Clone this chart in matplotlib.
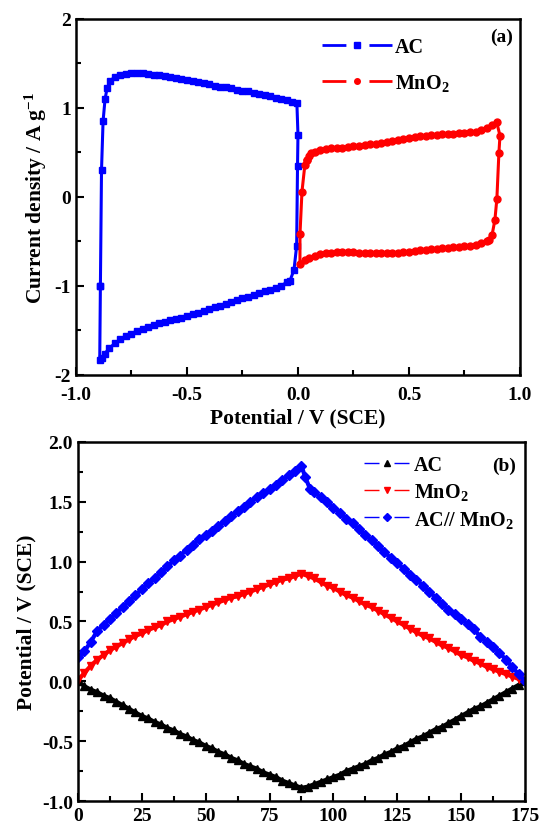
import matplotlib
matplotlib.use("Agg")
import matplotlib.pyplot as plt
from matplotlib.lines import Line2D
from matplotlib.ticker import MultipleLocator

plt.rcParams["font.family"] = ["Liberation Serif", "DejaVu Serif"]
plt.rcParams["font.weight"] = "bold"
plt.rcParams["axes.unicode_minus"] = False
plt.rcParams["mathtext.fontset"] = "custom"
plt.rcParams["mathtext.rm"] = "Liberation Serif:bold"
plt.rcParams["mathtext.it"] = "Liberation Serif:bold"
plt.rcParams["mathtext.bf"] = "Liberation Serif:bold"

# (a) cyclic voltammetry, AC electrode: potential (V) and current density (A/g)
ac_cv_v = [-0.89, -0.885, -0.878, -0.869, -0.86, -0.847, -0.825, -0.80, -0.775, -0.75,
           -0.725, -0.70, -0.675, -0.65, -0.625, -0.60, -0.575, -0.55, -0.525, -0.50,
           -0.475, -0.45, -0.425, -0.40, -0.375, -0.35, -0.325, -0.30, -0.275, -0.25,
           -0.225, -0.20, -0.175, -0.15, -0.125, -0.10, -0.075, -0.05, -0.025, -0.005,
           0.0, -0.002, -0.006, -0.018, -0.036,
           -0.05, -0.075, -0.10, -0.125, -0.15, -0.175, -0.20, -0.225, -0.25, -0.275,
           -0.30, -0.325, -0.35, -0.375, -0.40, -0.425, -0.45, -0.475, -0.50, -0.525,
           -0.55, -0.575, -0.60, -0.625, -0.65, -0.675, -0.70, -0.725, -0.75, -0.775,
           -0.80, -0.825, -0.85, -0.87, -0.885, -0.893, -0.89]
ac_cv_i = [-1.0, 0.30, 0.85, 1.10, 1.22, 1.30, 1.35, 1.37, 1.385, 1.39,
           1.39, 1.39, 1.385, 1.375, 1.365, 1.355, 1.345, 1.335, 1.32, 1.31,
           1.30, 1.29, 1.275, 1.265, 1.25, 1.24, 1.23, 1.22, 1.205, 1.195,
           1.185, 1.17, 1.16, 1.145, 1.13, 1.115, 1.10, 1.085, 1.07, 1.06,
           0.70, 0.35, -0.55, -0.82, -0.94,
           -0.96, -0.995, -1.02, -1.04, -1.06, -1.08, -1.10, -1.12, -1.14, -1.16,
           -1.18, -1.20, -1.22, -1.24, -1.26, -1.28, -1.30, -1.32, -1.335, -1.355,
           -1.37, -1.385, -1.40, -1.42, -1.44, -1.46, -1.48, -1.505, -1.535, -1.565,
           -1.60, -1.645, -1.70, -1.76, -1.81, -1.83, -1.0]

# (a) cyclic voltammetry, MnO2 electrode
mno2_cv_v = [0.04, 0.05, 0.06, 0.075, 0.10, 0.125, 0.15, 0.175, 0.20, 0.225,
             0.25, 0.275, 0.30, 0.325, 0.35, 0.375, 0.40, 0.425, 0.45, 0.475,
             0.50, 0.525, 0.55, 0.575, 0.60, 0.625, 0.65, 0.675, 0.70, 0.725,
             0.75, 0.775, 0.80, 0.825, 0.85, 0.875, 0.895,
             0.91, 0.905, 0.896, 0.887, 0.874, 0.86,
             0.85, 0.825, 0.80, 0.775, 0.75, 0.725, 0.70, 0.675, 0.65, 0.625,
             0.60, 0.575, 0.55, 0.525, 0.50, 0.475, 0.45, 0.425, 0.40, 0.375,
             0.35, 0.325, 0.30, 0.275, 0.25, 0.225, 0.20, 0.175, 0.15, 0.125,
             0.10, 0.075, 0.05, 0.03, 0.009,
             0.009, 0.018, 0.031, 0.04]
mno2_cv_i = [0.42, 0.46, 0.49, 0.51, 0.525, 0.535, 0.545, 0.55, 0.555, 0.56,
             0.57, 0.575, 0.585, 0.59, 0.60, 0.605, 0.615, 0.625, 0.64, 0.65,
             0.665, 0.675, 0.685, 0.69, 0.695, 0.70, 0.705, 0.71, 0.71, 0.715,
             0.72, 0.725, 0.735, 0.75, 0.775, 0.805, 0.84,
             0.69, 0.49, -0.02, -0.26, -0.43, -0.48,
             -0.50, -0.52, -0.535, -0.55, -0.555, -0.56, -0.565, -0.57, -0.575, -0.58,
             -0.585, -0.595, -0.60, -0.61, -0.615, -0.62, -0.625, -0.63, -0.635, -0.635,
             -0.635, -0.635, -0.63, -0.625, -0.62, -0.615, -0.615, -0.62, -0.625, -0.635,
             -0.645, -0.66, -0.68, -0.71, -0.75,
             -0.42, 0.06, 0.36, 0.42]

# (b) charge/discharge curves: time (s) and potential (V)
t_charge = [0, 2.5, 5, 7.5, 10, 12.5, 15, 17.5, 20, 22.5, 25, 27.5, 30, 32.5, 35, 37.5,
            40, 42.5, 45, 47.5, 50, 52.5, 55, 57.5, 60, 62.5, 65, 67.5, 70, 72.5, 75,
            77.5, 80, 82.5, 85, 87.5]
t_discharge = [90, 92.5, 95, 97.5, 100, 102.5, 105, 107.5, 110, 112.5, 115, 117.5, 120,
               122.5, 125, 127.5, 130, 132.5, 135, 137.5, 140, 142.5, 145, 147.5, 150,
               152.5, 155, 157.5, 160, 162.5, 165, 167.5, 170, 172.5, 175]
t_cell_discharge = [88.9, 90.8, 92.5, 95, 97.5, 100, 102.5, 105, 107.5, 110, 112.5, 115,
                    117.5, 120, 122.5, 125, 127.5, 130, 132.5, 135, 137.5, 140, 142.5,
                    145, 147.5, 150, 152.5, 155, 157.5, 160, 162.5, 165, 167.5, 170,
                    172.5, 175]

ac_charge = [0.0, -0.04, -0.07, -0.09, -0.12, -0.14, -0.17, -0.20, -0.23, -0.26, -0.29,
             -0.31, -0.34, -0.36, -0.39, -0.41, -0.44, -0.46, -0.49, -0.51, -0.54, -0.56,
             -0.59, -0.61, -0.64, -0.66, -0.69, -0.71, -0.73, -0.76, -0.78, -0.80, -0.83,
             -0.85, -0.87, -0.89]
ac_discharge = [-0.88, -0.86, -0.84, -0.82, -0.80, -0.78, -0.75, -0.73, -0.71, -0.69,
                -0.66, -0.64, -0.61, -0.59, -0.56, -0.54, -0.51, -0.48, -0.46, -0.43,
                -0.40, -0.38, -0.35, -0.32, -0.29, -0.26, -0.23, -0.21, -0.18, -0.15,
                -0.12, -0.09, -0.06, -0.03, 0.0]

mno2_charge = [0.01, 0.07, 0.13, 0.18, 0.22, 0.26, 0.29, 0.32, 0.35, 0.38, 0.40, 0.43,
               0.45, 0.47, 0.50, 0.52, 0.54, 0.56, 0.58, 0.60, 0.62, 0.64, 0.66, 0.68,
               0.70, 0.71, 0.73, 0.75, 0.77, 0.79, 0.81, 0.83, 0.85, 0.86, 0.88, 0.90]
mno2_discharge = [0.88, 0.86, 0.83, 0.80, 0.78, 0.75, 0.72, 0.70, 0.67, 0.64, 0.62, 0.59,
                  0.56, 0.53, 0.50, 0.47, 0.44, 0.41, 0.38, 0.36, 0.33, 0.30, 0.28, 0.25,
                  0.22, 0.20, 0.17, 0.15, 0.12, 0.10, 0.08, 0.06, 0.04, 0.02, 0.0]

cell_charge = [0.20, 0.25, 0.33, 0.42, 0.47, 0.52, 0.57, 0.62, 0.67, 0.72, 0.77, 0.82,
               0.86, 0.91, 0.96, 1.01, 1.05, 1.10, 1.14, 1.19, 1.22, 1.26, 1.30, 1.34,
               1.38, 1.42, 1.46, 1.50, 1.54, 1.57, 1.61, 1.64, 1.68, 1.72, 1.76, 1.80]
cell_discharge = [1.71, 1.61, 1.58, 1.54, 1.50, 1.45, 1.41, 1.36, 1.32, 1.27, 1.22, 1.18,
                  1.13, 1.08, 1.03, 0.99, 0.94, 0.89, 0.85, 0.80, 0.75, 0.70, 0.65, 0.60,
                  0.56, 0.52, 0.48, 0.44, 0.37, 0.33, 0.29, 0.24, 0.18, 0.12, 0.06, 0.0]

BLUE = "#0000ff"
RED = "#ff0000"

fig = plt.figure(figsize=(5.4, 8.28), dpi=100)
ax1 = fig.add_axes([0.1407, 0.5459, 0.8222, 0.43])
ax2 = fig.add_axes([0.1444, 0.0314, 0.8278, 0.4336])

# ---- panel (a)
ax1.plot(ac_cv_v, ac_cv_i, color=BLUE, lw=2.2, marker="s", ms=4.6, mec=BLUE, mfc=BLUE)
ax1.plot(mno2_cv_v, mno2_cv_i, color=RED, lw=2.2, marker="o", ms=5.0, mec=RED, mfc=RED)
ax1.set_xlim(-1.0, 1.0)
ax1.set_ylim(-2, 2)
ax1.xaxis.set_major_locator(MultipleLocator(0.5))
ax1.xaxis.set_minor_locator(MultipleLocator(0.25))
ax1.yaxis.set_major_locator(MultipleLocator(1))
ax1.yaxis.set_minor_locator(MultipleLocator(0.5))
ax1.xaxis.set_major_formatter(plt.FormatStrFormatter("%.1f"))
ax1.yaxis.set_major_formatter(plt.FormatStrFormatter("%d"))
ax1.set_xlabel("Potential / V (SCE)", fontsize=15.5, fontweight="bold", labelpad=3)
ax1.set_ylabel("Current density / A g$^{-1}$", fontsize=15.5, fontweight="bold", labelpad=4)
ax1.text(0.985, 0.95, "(a)", transform=ax1.transAxes, ha="right", va="center",
         fontsize=14, fontweight="bold")

h_a = [Line2D([], [], color=BLUE, lw=2, dashes=(8.6, 8.3), marker="s", ms=4,
              mfc=BLUE, mec=BLUE),
       Line2D([], [], color=RED, lw=2, dashes=(8.6, 8.3), marker="o", ms=4,
              mfc=RED, mec=RED)]
ax1.legend(h_a, ["AC", "MnO$_2$"], loc="upper left", bbox_to_anchor=(0.514, 1.0),
           frameon=False, fontsize=14.5, handlelength=3.45, handletextpad=0.15,
           labelspacing=0.72, numpoints=1)

# ---- panel (b)
ax2.plot(t_charge + t_discharge, ac_charge + ac_discharge, color="black", lw=3.0,
         marker="^", ms=5.2, mec="black", mfc="black")
ax2.plot(t_charge + t_discharge, mno2_charge + mno2_discharge, color=RED, lw=3.0,
         marker="v", ms=5.2, mec=RED, mfc=RED)
ax2.plot(t_charge + t_cell_discharge, cell_charge + cell_discharge, color=BLUE, lw=3.0,
         marker="D", ms=4.6, mec=BLUE, mfc=BLUE)
ax2.set_xlim(0, 175)
ax2.set_ylim(-1.0, 2.0)
ax2.xaxis.set_major_locator(MultipleLocator(25))
ax2.xaxis.set_minor_locator(MultipleLocator(12.5))
ax2.yaxis.set_major_locator(MultipleLocator(0.5))
ax2.yaxis.set_minor_locator(MultipleLocator(0.25))
ax2.yaxis.set_major_formatter(plt.FormatStrFormatter("%.1f"))
ax2.set_ylabel("Potential / V (SCE)", fontsize=15.5, fontweight="bold", labelpad=4)
ax2.text(0.98, 0.935, "(b)", transform=ax2.transAxes, ha="right", va="center",
         fontsize=14, fontweight="bold")

h_b = [Line2D([], [], color=BLUE, lw=1, dashes=(10.8, 10.8), marker="^", ms=5,
              mfc="black", mec="black"),
       Line2D([], [], color=RED, lw=1, dashes=(10.8, 10.8), marker="v", ms=5,
              mfc=RED, mec=RED),
       Line2D([], [], color=BLUE, lw=1, dashes=(10.8, 10.8), marker="D", ms=4,
              mfc=BLUE, mec=BLUE)]
ax2.legend(h_b, ["AC", "MnO$_2$", "AC// MnO$_2$"], loc="upper left",
           bbox_to_anchor=(0.6, 1.013), frameon=False, fontsize=14.5,
           handlelength=2.25, handletextpad=0.2, labelspacing=0.3, numpoints=1)

for ax in (ax1, ax2):
    for sp in ax.spines.values():
        sp.set_linewidth(1.8)
    ax.tick_params(which="both", direction="in", top=False, right=False,
                   labelsize=14, width=1.5)
    ax.tick_params(which="major", length=6)
    ax.tick_params(which="minor", length=3.5)
    for lab in ax.get_xticklabels() + ax.get_yticklabels():
        lab.set_fontweight("bold")
ax1.tick_params(axis="x", which="major", pad=8)
ax2.tick_params(axis="x", which="major", pad=4)

fig.savefig("out.png", dpi=100)
